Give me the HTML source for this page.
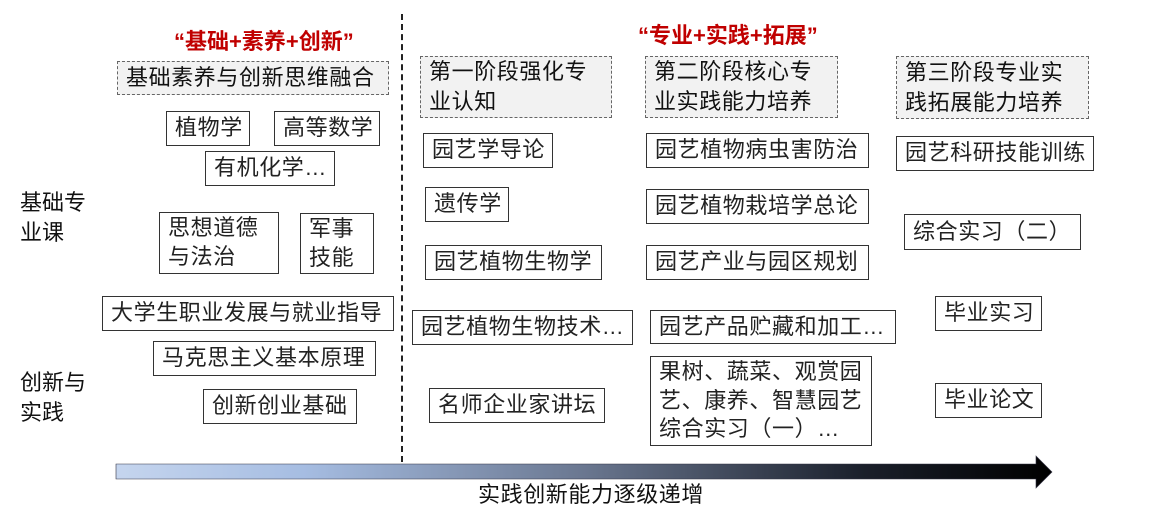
<!DOCTYPE html>
<html><head><meta charset="utf-8"><style>
body{margin:0;width:1150px;height:532px;background:#fff;position:relative;overflow:hidden;font-family:"Liberation Sans","Noto Sans CJK SC",sans-serif;color:#222}
.b{position:absolute;border:1.5px solid #333;box-sizing:border-box;font-size:22px;letter-spacing:0.6px;line-height:1.3;padding:0 0 0 8px;display:flex;align-items:center;white-space:nowrap;background:#fff}
.h{position:absolute;border:1.5px dashed #666;background:#f2f2f2;box-sizing:border-box;font-size:22px;letter-spacing:0.6px;line-height:1.35;padding:0 0 0 8px;display:flex;align-items:center;white-space:nowrap;color:#111}
.t{position:absolute;font-size:22px;line-height:1.35;color:#111}
.r{position:absolute;color:#c00000;font-size:22px;font-weight:bold;white-space:nowrap}
</style></head><body>
<div class="r" style="left:174px;top:24px">“基础+素养+创新”</div>
<div class="r" style="left:638px;top:18px">“专业+实践+拓展”</div>
<div style="position:absolute;left:401px;top:14px;height:448px;border-left:2px dashed #222"></div>
<div class="h" style="left:117px;top:61px;width:272px;height:34px">基础素养与创新思维融合</div>
<div class="h" style="left:420px;top:56px;width:192px;height:62px">第一阶段强化专<br>业认知</div>
<div class="h" style="left:645px;top:56px;width:193px;height:62px">第二阶段核心专<br>业实践能力培养</div>
<div class="h" style="left:896px;top:56px;width:193px;height:63px">第三阶段专业实<br>践拓展能力培养</div>
<div class="t" style="left:20px;top:188px">基础专<br>业课</div>
<div class="t" style="left:20px;top:368px">创新与<br>实践</div>
<div class="b" style="left:166px;top:111px;width:84px;height:35px">植物学</div>
<div class="b" style="left:274px;top:111px;width:106px;height:35px">高等数学</div>
<div class="b" style="left:205px;top:151px;width:130px;height:35px">有机化学…</div>
<div class="b" style="left:159px;top:212px;width:120px;height:62px">思想道德<br>与法治</div>
<div class="b" style="left:300px;top:213px;width:74px;height:61px">军事<br>技能</div>
<div class="b" style="left:102px;top:296px;width:292px;height:35px">大学生职业发展与就业指导</div>
<div class="b" style="left:153px;top:341px;width:223px;height:35px">马克思主义基本原理</div>
<div class="b" style="left:203px;top:389px;width:154px;height:35px">创新创业基础</div>
<div class="b" style="left:423px;top:133px;width:130px;height:35px">园艺学导论</div>
<div class="b" style="left:425px;top:187px;width:84px;height:35px">遗传学</div>
<div class="b" style="left:425px;top:245px;width:177px;height:35px">园艺植物生物学</div>
<div class="b" style="left:412px;top:310px;width:221px;height:35px">园艺植物生物技术…</div>
<div class="b" style="left:429px;top:388px;width:176px;height:35px">名师企业家讲坛</div>
<div class="b" style="left:646px;top:133px;width:223px;height:35px">园艺植物病虫害防治</div>
<div class="b" style="left:646px;top:189px;width:223px;height:35px">园艺植物栽培学总论</div>
<div class="b" style="left:646px;top:245px;width:223px;height:35px">园艺产业与园区规划</div>
<div class="b" style="left:650px;top:310px;width:246px;height:34px">园艺产品贮藏和加工…</div>
<div class="b" style="left:650px;top:356px;width:222px;height:90px;line-height:1.3">果树、蔬菜、观赏园<br>艺、康养、智慧园艺<br>综合实习（一）…</div>
<div class="b" style="left:896px;top:136px;width:198px;height:35px">园艺科研技能训练</div>
<div class="b" style="left:904px;top:214px;width:177px;height:36px">综合实习（二）</div>
<div class="b" style="left:935px;top:296px;width:107px;height:35px">毕业实习</div>
<div class="b" style="left:935px;top:383px;width:107px;height:35px">毕业论文</div>
<svg style="position:absolute;left:0;top:0" width="1150" height="532">
<defs><linearGradient id="g" x1="0" x2="1"><stop offset="0" stop-color="#c5d5ee"/><stop offset="0.2" stop-color="#a6bde2"/><stop offset="0.5" stop-color="#6a7790"/><stop offset="0.8" stop-color="#1a1f2a"/><stop offset="1" stop-color="#000"/></linearGradient></defs>
<polygon points="116,464 1036,464 1036,456 1052,472 1036,488 1036,479 116,479" fill="url(#g)" stroke="#334" stroke-width="0.6"/>
</svg>
<div class="t" style="left:478px;top:480px;letter-spacing:0.6px">实践创新能力逐级递增</div>
</body></html>
